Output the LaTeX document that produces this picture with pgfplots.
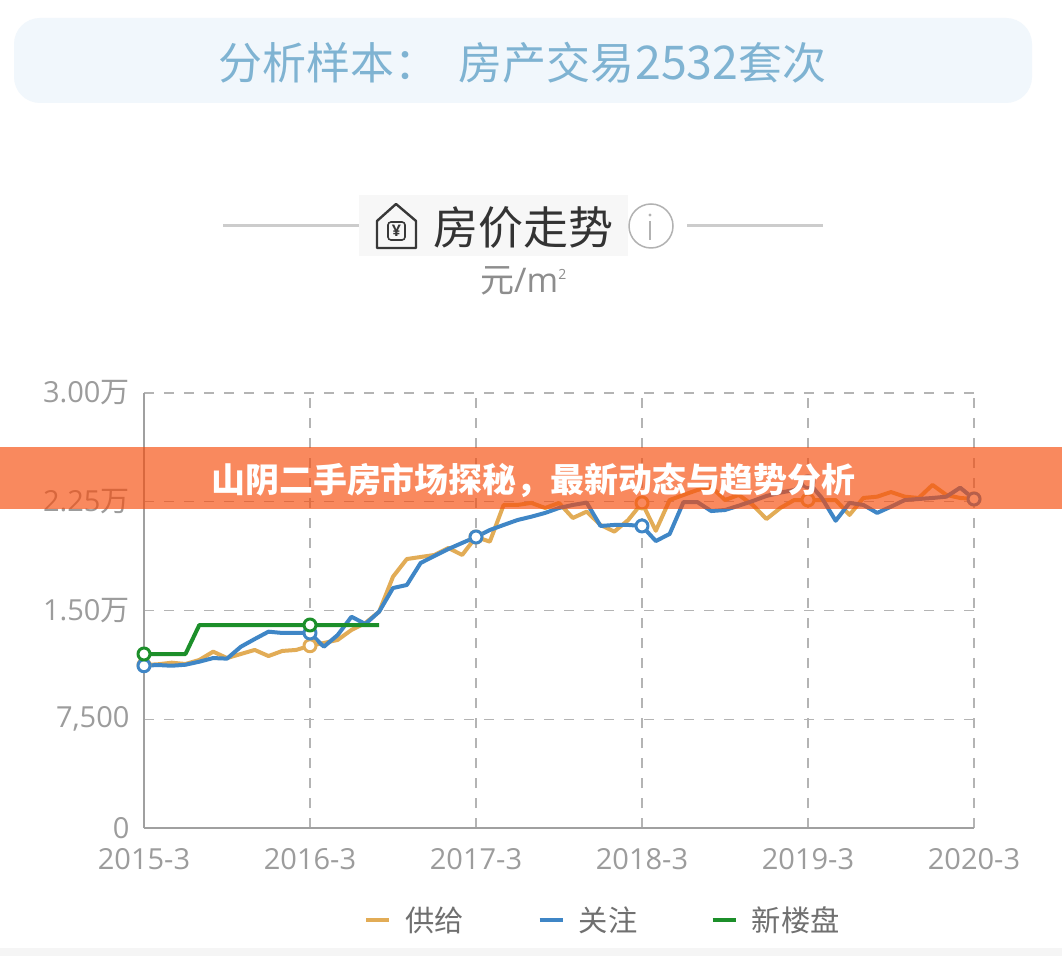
\documentclass[border=0pt]{standalone}
\usepackage{fontspec}
\setmainfont{Open Sans}
\newfontfamily\cjk{Noto Sans CJK SC}
\usepackage{pgfplots}
\pgfplotsset{compat=1.18}
\definecolor{supply}{HTML}{E2AC56}
\definecolor{watch}{HTML}{3F86C6}
\definecolor{newb}{HTML}{1C8F2A}
\definecolor{gridc}{HTML}{B4B4B4}
\definecolor{axisc}{HTML}{A0A0A0}
\definecolor{tickc}{HTML}{9C9C9C}
\definecolor{legc}{HTML}{707070}
\definecolor{titleblue}{HTML}{7FB3D2}
\definecolor{cardblue}{HTML}{F1F7FC}
\definecolor{bandc}{HTML}{F64C0C}
\begin{document}
\begin{tikzpicture}
\useasboundingbox (0,0) rectangle (1062pt,956pt);
\fill[white] (0,0) rectangle (1062pt,956pt);
\begin{axis}[
  at={(144pt,128pt)}, anchor=south west,
  scale only axis, width=830pt, height=435pt,
  xmin=0, xmax=60, ymin=0, ymax=30000,
  axis lines=left, axis line style={axisc, line width=1.2pt, -},
  scaled y ticks=false,
  xtick={0,12,24,36,48,60},
  xticklabels={2015-3,2016-3,2017-3,2018-3,2019-3,2020-3},
  ytick={0,7500,15000,22500,30000},
  yticklabels={0,{7,500},{1.50{\cjk 万}},{2.25{\cjk 万}},{3.00{\cjk 万}}},
  major tick length=0pt,
  grid=major, grid style={gridc, line width=1.2pt, dash pattern=on 10pt off 10pt},
  ticklabel style={font=\fontsize{29}{32}\selectfont, text=tickc},
  xticklabel style={yshift=-17pt},
  yticklabel style={xshift=-11pt},
  clip=false,
  legend columns=3,
  legend style={at={(axis description cs:0.553,-0.2115)}, anchor=center, draw=none, fill=none,
    font=\fontsize{29.3}{32}\selectfont\cjk, text=legc,
    /tikz/every even column/.append style={column sep=71pt},
    /tikz/every odd column/.append style={column sep=12pt}},
  legend image code/.code={\draw[#1, mark=none, line width=4.5pt] (0pt,0pt) -- (23pt,0pt);},
  every axis plot/.append style={line width=4pt, line join=round},
]
\addplot[supply, mark=*, mark repeat=12, mark size=6pt, mark options={fill=white, line width=3pt}] coordinates {
(0,11240)(1,11290)(2,11400)(3,11310)(4,11590)(5,12160)(6,11720)(7,12000)(8,12280)(9,11860)
(10,12210)(11,12280)(12,12570)(13,12760)(14,12970)(15,13660)(16,14140)(17,14920)(18,17330)(19,18550)
(20,18690)(21,18830)(22,19310)(23,18830)(24,20070)(25,19750)(26,22280)(27,22280)(28,22420)(29,22070)
(30,22420)(31,21380)(32,21820)(33,20900)(34,20440)(35,21240)(36,22420)(37,20500)(38,22620)(39,22970)
(40,23310)(41,23540)(42,22620)(43,22970)(44,22280)(45,21310)(46,22070)(47,22620)(48,22620)(49,22620)
(50,22620)(51,21590)(52,22760)(53,22850)(54,23170)(55,22850)(56,22760)(57,23660)(58,22970)(59,22760)(60,22690)};
\addlegendentry{供给}
\addplot[watch, mark=*, mark repeat=12, mark size=6pt, mark options={fill=white, line width=3pt}] coordinates {
(0,11190)(1,11240)(2,11190)(3,11260)(4,11470)(5,11720)(6,11680)(7,12500)(8,13030)(9,13540)
(10,13450)(11,13450)(12,13450)(13,12500)(14,13310)(15,14570)(16,14070)(17,14920)(18,16550)(19,16760)
(20,18280)(21,18760)(22,19240)(23,19660)(24,20070)(25,20550)(26,20900)(27,21240)(28,21470)(29,21730)
(30,22070)(31,22280)(32,22440)(33,20830)(34,20900)(35,20900)(36,20830)(37,19790)(38,20280)(39,22480)
(40,22480)(41,21860)(42,21930)(43,22230)(44,22550)(45,22900)(46,23130)(47,23310)(48,23880)(49,22760)
(50,21190)(51,22420)(52,22280)(53,21730)(54,22160)(55,22620)(56,22690)(57,22760)(58,22850)(59,23470)(60,22690)};
\addlegendentry{关注}
\addplot[newb, mark=*, mark repeat=12, mark size=6pt, mark options={fill=white, line width=3pt}] coordinates {
(0,12000)(1,12000)(2,12000)(3,12000)(4,14000)(5,14000)(6,14000)(7,14000)(8,14000)(9,14000)
(10,14000)(11,14000)(12,14000)(13,14000)(14,14000)(15,14000)(16,14000)(17,14000)};
\addlegendentry{新楼盘}
\end{axis}
\begin{scope}[shift={(0,956pt)}, x=1pt, y=-1pt]
  % top card
  \fill[cardblue, rounded corners=26pt] (14,18) rectangle (1032,103);
  \node[anchor=west, inner sep=0, text=titleblue, font=\fontsize{44}{48}\selectfont\cjk] at (218,63) {分析样本：};
  \node[anchor=west, inner sep=0, text=titleblue, font=\fontsize{44}{48}\selectfont\cjk] at (458,63) {房产交易};
  \node[anchor=west, inner sep=0, text=titleblue, font=\fontsize{46.5}{48}\selectfont\cjk] at (635,63) {2532};
  \node[anchor=west, inner sep=0, text=titleblue, font=\fontsize{44}{48}\selectfont\cjk] at (738,63) {套次};
  % chart heading
  \draw[black!20, line width=3pt] (223,226) -- (359,226) (687,226) -- (823,226);
  \fill[black!3] (359,195) rectangle (628,256);
  \node[anchor=west, inner sep=0, text=black!80, font=\fontsize{45}{48}\selectfont\cjk] at (433,228) {房价走势};
  \draw[black!78, line width=2.4pt, line join=round] (377,248) -- (377,221) -- (396,204) -- (416,221) -- (416,248) -- cycle;
  \draw[black!78, line width=1.6pt, rounded corners=3pt] (388,222) rectangle (405,240);
  \node[text=black!78, inner sep=0, font=\fontsize{16}{18}\selectfont\bfseries] at (396.5,231) {¥};
  \draw[black!30, line width=1.5pt] (651,226) circle (22);
  \fill[black!30] (650,215) circle (1.6);
  \draw[black!30, line width=1.6pt] (650,221) -- (650,240);
  \node[anchor=west, inner sep=0, text=tickc!90!black, font=\fontsize{34}{36}\selectfont] at (480,281) {{\cjk 元}/m\raisebox{13pt}{\fontsize{14}{14}\selectfont 2}};
  % banner on top of the plot
  \fill[bandc, fill opacity=.66] (0,447) rectangle (1062,509);
  \node[inner sep=0, text=white, font=\fontsize{33.9}{36}\selectfont\cjk\bfseries] at (533.5,480) {山阴二手房市场探秘，最新动态与趋势分析};
  % bottom strip
  \fill[black!4] (0,948) rectangle (1062,956);
\end{scope}
\end{tikzpicture}
\end{document}
